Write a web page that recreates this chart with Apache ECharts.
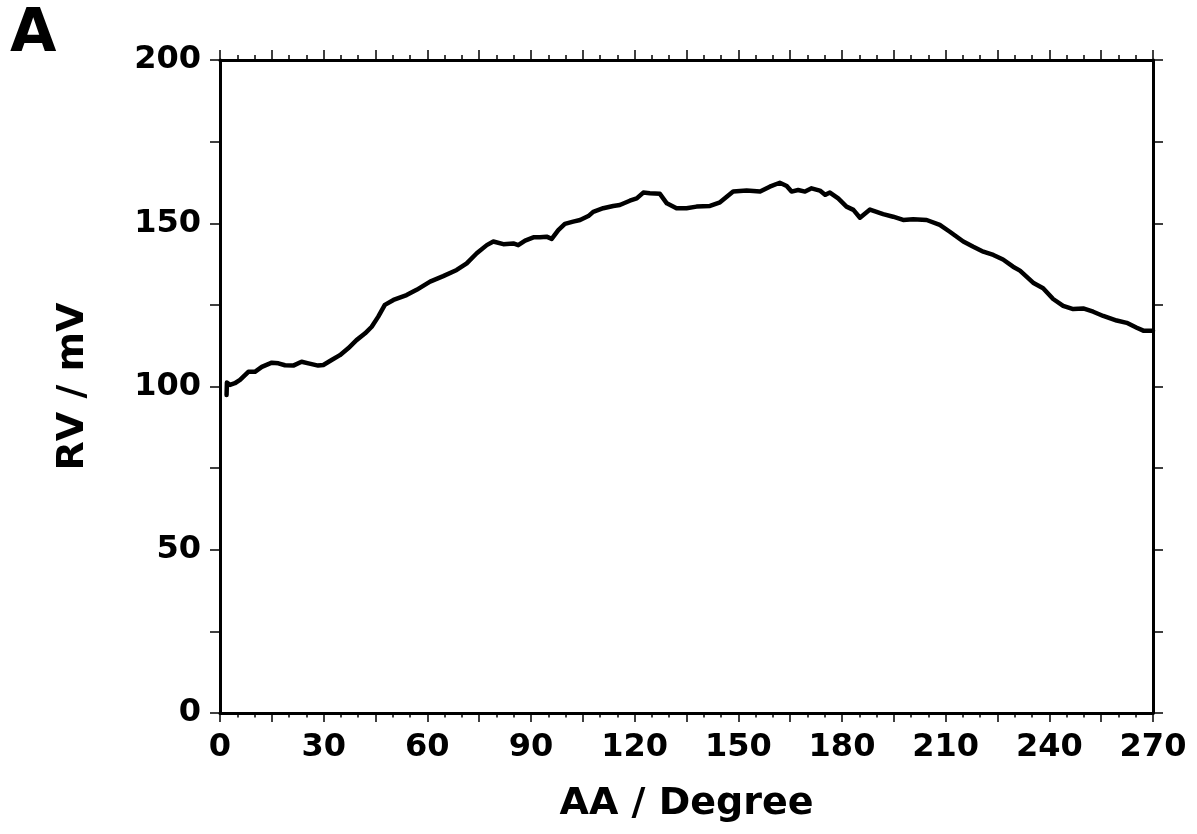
<!DOCTYPE html>
<html>
<head>
<meta charset="utf-8">
<script src="https://cdn.jsdelivr.net/npm/echarts@6/dist/echarts.min.js"></script>
<style>html,body{margin:0;padding:0;background:#fff}#c{width:1197px;height:834px}</style>
</head>
<body>
<div id="c"></div>
<script>
const angles = [1.9, 2.0, 2.9, 4.3, 5.8, 8.2, 10.1, 12.1, 15.0, 16.9, 18.8, 21.2, 23.6, 25.6, 28.4, 29.9, 32.3, 34.7, 37.1, 39.5, 42.0, 43.9, 45.8, 47.7, 50.2, 54.0, 56.9, 60.8, 64.6, 68.5, 71.4, 74.3, 77.2, 79.1, 82.0, 84.9, 86.3, 88.3, 90.7, 92.6, 94.5, 96.0, 97.9, 99.8, 102.2, 104.2, 106.6, 108.0, 110.9, 113.8, 115.7, 118.6, 120.6, 122.5, 124.4, 127.3, 129.3, 132.1, 135.0, 137.9, 141.8, 144.7, 148.5, 152.4, 156.3, 159.1, 162.0, 164.0, 165.4, 167.3, 169.3, 171.2, 173.6, 175.1, 176.5, 178.9, 181.3, 183.3, 185.2, 188.1, 191.9, 194.8, 197.7, 200.6, 204.5, 208.3, 211.2, 215.1, 218.0, 220.9, 223.8, 226.6, 229.5, 231.5, 235.3, 238.2, 241.1, 244.0, 246.9, 249.8, 252.7, 255.6, 259.5, 262.4, 265.3, 267.2, 270.0];
const rv = [97.4, 101.2, 100.5, 101.0, 102.0, 104.5, 104.5, 106.0, 107.3, 107.1, 106.5, 106.4, 107.6, 107.1, 106.4, 106.6, 108.1, 109.6, 111.7, 114.2, 116.3, 118.3, 121.4, 125.0, 126.5, 128.0, 129.6, 132.1, 133.8, 135.7, 137.7, 140.8, 143.3, 144.4, 143.6, 143.8, 143.3, 144.7, 145.7, 145.7, 145.9, 145.2, 147.9, 149.8, 150.5, 151.0, 152.2, 153.5, 154.6, 155.3, 155.6, 156.9, 157.6, 159.4, 159.2, 159.0, 156.1, 154.6, 154.6, 155.1, 155.3, 156.4, 159.7, 160.0, 159.7, 161.2, 162.4, 161.4, 159.7, 160.2, 159.7, 160.7, 160.0, 158.7, 159.4, 157.6, 155.1, 154.1, 151.7, 154.2, 152.8, 152.0, 151.0, 151.2, 151.0, 149.5, 147.4, 144.4, 142.8, 141.3, 140.3, 138.9, 136.7, 135.5, 131.8, 130.1, 126.8, 124.7, 123.7, 123.9, 122.9, 121.6, 120.2, 119.5, 118.0, 117.1, 117.1];
const xTickLabels = [0, 30, 60, 90, 120, 150, 180, 210, 240, 270];
const yTickLabels = [0, 50, 100, 150, 200];
const xTitle = 'AA / Degree';
const yTitle = 'RV / mV';
const panelLabel = 'A';

const FONT = 'DejaVu Sans';
const lineData = angles.map((a, i) => [a, rv[i]]);
const axisLineStyle = { show: true, onZero: false, lineStyle: { color: '#000', width: 3 } };
const tickStyle = { lineStyle: { color: '#000', width: 1.5 } };

const chart = echarts.init(document.getElementById('c'), null, { renderer: 'canvas' });
chart.setOption({
  backgroundColor: '#fff',
  animation: false,
  title: {
    text: panelLabel, left: 10, top: 5, padding: 0,
    textStyle: { fontFamily: FONT, fontWeight: 'bold', fontSize: 60, color: '#000' }
  },
  grid: { left: 220, top: 60, right: 44, bottom: 121, containLabel: false },
  xAxis: [
    {
      type: 'value', position: 'bottom', min: 0, max: 270, interval: 15,
      axisLine: axisLineStyle,
      axisTick: { show: true, inside: false, length: 9, ...tickStyle },
      minorTick: { show: true, splitNumber: 3, length: 4.5, ...tickStyle },
      splitLine: { show: false },
      axisLabel: {
        margin: 19, fontFamily: FONT, fontWeight: 'bold', fontSize: 32, color: '#000',
        formatter: v => xTickLabels.includes(v) ? String(v) : ''
      },
      name: xTitle, nameLocation: 'middle', nameGap: 72,
      nameTextStyle: { fontFamily: FONT, fontWeight: 'bold', fontSize: 38, color: '#000' }
    },
    {
      type: 'value', position: 'top', min: 0, max: 270, interval: 15,
      axisLine: axisLineStyle,
      axisTick: { show: true, inside: false, length: 10, ...tickStyle },
      minorTick: { show: true, splitNumber: 3, length: 5, ...tickStyle },
      splitLine: { show: false },
      axisLabel: { show: false }
    }
  ],
  yAxis: [
    {
      type: 'value', position: 'left', min: 0, max: 200, interval: 25,
      axisLine: axisLineStyle,
      axisTick: { show: true, inside: false, length: 10, ...tickStyle },
      splitLine: { show: false },
      axisLabel: {
        margin: 19, fontFamily: FONT, fontWeight: 'bold', fontSize: 32, color: '#000',
        formatter: v => yTickLabels.includes(v) ? String(v) : ''
      },
      name: yTitle, nameLocation: 'middle', nameGap: 128, nameRotate: 90,
      nameTextStyle: { fontFamily: FONT, fontWeight: 'bold', fontSize: 38, color: '#000' }
    },
    {
      type: 'value', position: 'right', min: 0, max: 200, interval: 25,
      axisLine: axisLineStyle,
      axisTick: { show: true, inside: false, length: 10, ...tickStyle },
      splitLine: { show: false },
      axisLabel: { show: false }
    }
  ],
  series: [{
    type: 'line', xAxisIndex: 0, yAxisIndex: 0, data: lineData,
    showSymbol: false, symbol: 'none', smooth: false,
    lineStyle: { color: '#000', width: 4.5, join: 'round', cap: 'round' }
  }]
});
</script>
</body>
</html>
